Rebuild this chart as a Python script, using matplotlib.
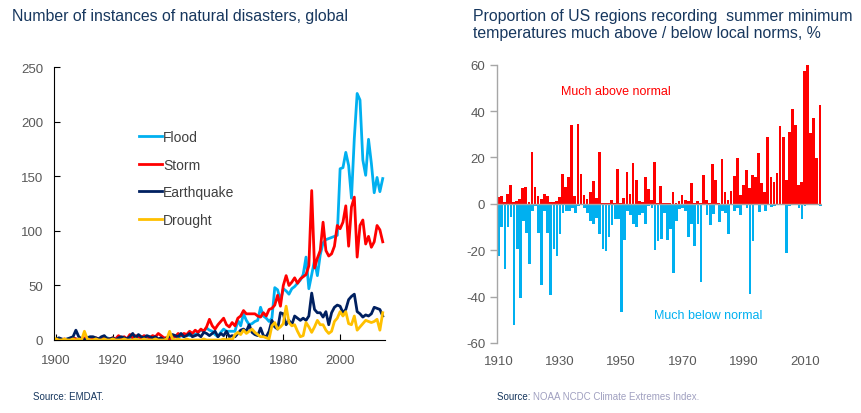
import matplotlib
matplotlib.use("Agg")
import matplotlib.pyplot as plt
import numpy as np

plt.rcParams["font.family"] = ["Liberation Sans", "DejaVu Sans"]
plt.rcParams["axes.unicode_minus"] = False

# Left panel: natural disasters per year, 1900-2015.
years = np.arange(1900, 2016)

flood = [
    0, 1, 0, 0, 1, 0, 2, 1, 0, 1,
    0, 1, 0, 2, 1, 0, 1, 0, 2, 1,
    0, 1, 1, 0, 2, 1, 0, 2, 1, 0,
    1, 2, 0, 1, 2, 1, 0, 2, 1, 1,
    0, 2, 3, 2, 4, 3, 5, 4, 6, 5,
    7, 9, 8, 11, 9, 8, 5, 3, 7, 10,
    8, 8, 8, 8, 18, 13, 24, 18, 14, 15,
    17, 18, 30, 22, 20, 17, 20, 48, 46, 36,
    47, 45, 42, 47, 49, 52, 55, 60, 76, 47,
    60, 73, 59, 78, 89, 92, 93, 94, 95, 96,
    157, 158, 172, 160, 130, 185, 226, 220, 165, 151,
    184, 162, 135, 149, 136, 148,
]
storm = [
    0, 1, 0, 1, 0, 1, 2, 1, 0, 1,
    2, 1, 0, 1, 2, 1, 0, 2, 1, 1,
    2, 1, 4, 2, 3, 1, 5, 2, 4, 3,
    2, 4, 3, 2, 4, 3, 6, 4, 2, 2,
    1, 4, 3, 6, 4, 6, 5, 8, 6, 9,
    7, 10, 8, 12, 19, 13, 10, 14, 17, 20,
    14, 12, 16, 13, 20, 22, 27, 24, 24, 24,
    24, 22, 21, 25, 22, 28, 29, 32, 41, 31,
    50, 59, 50, 53, 57, 52, 56, 58, 60, 68,
    137, 66, 75, 82, 108, 82, 77, 79, 86, 105,
    102, 108, 123, 86, 122, 131, 76, 105, 110, 88,
    95, 85, 90, 105, 101, 90,
]
earthquake = [
    0, 2, 1, 0, 1, 2, 3, 9, 3, 1,
    0, 2, 3, 3, 2, 1, 3, 4, 1, 1,
    2, 0, 2, 3, 2, 1, 3, 6, 2, 5,
    3, 2, 4, 3, 2, 3, 1, 2, 0, 2,
    3, 5, 4, 3, 6, 3, 4, 6, 3, 4,
    5, 3, 7, 6, 4, 6, 8, 3, 6, 4,
    8, 3, 4, 3, 6, 9, 10, 8, 14, 7,
    5, 4, 11, 4, 3, 8, 18, 12, 10, 25,
    24, 14, 18, 14, 22, 20, 18, 20, 18, 22,
    43, 28, 25, 25, 21, 26, 14, 25, 30, 32,
    31, 25, 28, 37, 40, 42, 26, 24, 21, 23,
    22, 24, 30, 29, 28, 22,
]
drought = [
    1, 0, 0, 1, 0, 0, 1, 0, 1, 0,
    8, 1, 0, 0, 1, 0, 0, 1, 0, 0,
    1, 0, 0, 0, 1, 0, 0, 0, 1, 0,
    0, 1, 0, 0, 0, 1, 0, 0, 0, 1,
    8, 1, 0, 1, 0, 0, 1, 0, 0, 0,
    0, 0, 1, 0, 0, 0, 0, 0, 0, 1,
    0, 1, 0, 5, 7, 5, 9, 6, 8, 10,
    7, 5, 3, 3, 2, 1, 13, 16, 10, 12,
    15, 31, 16, 13, 14, 8, 3, 4, 16, 12,
    7, 12, 18, 14, 14, 9, 6, 8, 17, 20,
    26, 22, 26, 15, 14, 22, 9, 12, 15, 18,
    17, 16, 17, 19, 9, 25,
]

series_names = ["Flood", "Storm", "Earthquake", "Drought"]
series_colors = ["#00B0F0", "#FF0000", "#002060", "#FFC000"]

# Right panel: share of US regions, much above / below normal, 1910-2015.
cei_years = np.arange(1910, 2016)

much_above = [
    3, 3.5, 1, 4.3, 8.2, 1, 1.4, 2.2, 7, 7.3,
    1, 22.4, 7.3, 3.5, 2.2, 4.3, 3.5, 1, 1, 1.4,
    3.1, 13, 7.3, 11.6, 34.2, 3.5, 34.5, 13, 3.9, 2.2,
    5.3, 9.9, 2.6, 22.4, 0.4, 0.4, 0.4, 1.7, 0.4, 15,
    0.4, 2.6, 13.8, 4.3, 17.7, 10.3, 1.4, 1, 11.6, 6.5,
    1.7, 18, 0.4, 7.8, 0.4, 0.4, 0.4, 5.2, 0.4, 1.3,
    3.9, 1.7, 1.3, 9, 0.4, 1.4, 0.4, 12.5, 1.7, 0.4,
    17.2, 10.3, 0.5, 19.4, 5.2, 1.7, 5.7, 12.1, 19.8, 3.9,
    8.2, 14.7, 6.9, 12.5, 11.6, 22, 9, 5.2, 28.9, 11.6,
    9.5, 13.4, 33.6, 28.9, 10.3, 31, 41, 34, 8.2, 9.5,
    57.3, 59.9, 30.6, 37, 19.8, 42.7,
]
much_below = [
    -22.3, -10, -27.9, -10, -5.5, -52.4, -19.3, -40.7, -7.2, -12.4,
    -26.1, -2.9, -1.1, -12.4, -34.8, -2.9, -12.4, -39.5, -19.3, -22.7,
    -13.2, -4, -3.2, -3.2, -1.9, -4, -1, -0.5, -2, -4,
    -7.2, -8.9, -6.2, -12.9, -19.3, -20.5, -14.1, -9.3, -6.5, -6.5,
    -46.7, -15.4, -3.2, -5, -8.9, -10, -4.6, -4, -8.9, -1.1,
    -1.9, -19.8, -16.2, -15, -3.9, -15.4, -11, -29.7, -7.2, -2.4,
    -2, -3, -14.4, -8.6, -18, -8.9, -33.6, -0.7, -5, -9.3,
    -4.3, -0.7, -8, -3.2, -4, -12.9, -0.5, -3.2, -2, -4.6,
    -0.7, -1.9, -38.8, -16.2, -0.7, -3.7, -0.5, -2.9, -0.5, -1.2,
    -1, -0.5, -0.3, -0.3, -21.3, -1.1, -0.3, -0.3, -2, -6.6,
    -1.1, -0.5, -0.3, -0.5, -0.6, -1.1,
]

TITLE_COLOR = "#17375E"
TICK_COLOR = "#595959"


def draw_disasters(ax):
    for values, name, color in zip([flood, storm, earthquake, drought],
                                   series_names, series_colors):
        ax.plot(years, values, color=color, lw=2.0, label=name)

    ax.set_xlim(1899.4, 2015.8)
    ax.set_ylim(0, 250)
    ax.set_xticks(np.arange(1900, 2001, 20))
    ax.set_yticks(np.arange(0, 251, 50))
    for side in ["top", "right"]:
        ax.spines[side].set_visible(False)
    for side in ["left", "bottom"]:
        ax.spines[side].set_color("black")
        ax.spines[side].set_linewidth(0.8)
    ax.tick_params(direction="in", length=4, width=0.8, color="black",
                   labelsize=9.5, labelcolor=TICK_COLOR)
    ax.tick_params(axis="x", pad=10)
    ax.tick_params(axis="y", pad=8)

    leg = ax.legend(loc="upper left", bbox_to_anchor=(0.255, 0.77),
                    frameon=False, fontsize=10, handlelength=1.7,
                    handletextpad=0.08, labelspacing=0.98, borderpad=0,
                    borderaxespad=0)
    for text in leg.get_texts():
        text.set_color("#404040")


def draw_cei(ax):
    ax.bar(cei_years - 0.08, much_above, width=0.9, color="#FF0000",
           linewidth=0)
    ax.bar(cei_years + 0.08, much_below, width=0.9, color="#00B0F0",
           linewidth=0)
    ax.axhline(0, color="#A6A6A6", lw=1.0)

    ax.set_xlim(1909.5, 2015.6)
    ax.set_ylim(-60, 60)
    ax.set_xticks(np.arange(1910, 2011, 20))
    ax.set_yticks(np.arange(-60, 61, 20))
    for side in ["top", "right", "bottom"]:
        ax.spines[side].set_visible(False)
    ax.spines["left"].set_color("#A6A6A6")
    ax.spines["left"].set_linewidth(1.0)
    ax.tick_params(axis="y", direction="out", length=5, width=1.0,
                   color="#A6A6A6", labelsize=9.5, labelcolor=TICK_COLOR)
    ax.tick_params(axis="x", length=0, labelsize=9.5, labelcolor=TICK_COLOR,
                   pad=9)

    ax.text(1930.3, 48.8, "Much above normal", color="#FF0000",
            fontsize=9, va="center", ha="left")
    ax.text(1960.8, -48.1, "Much below normal", color="#00B0F0",
            fontsize=9, va="center", ha="left")


def main():
    fig = plt.figure(figsize=(8.61, 4.14), dpi=100)

    ax1 = fig.add_axes([54.3 / 861, 1 - 341 / 414, (385 - 54.3) / 861,
                        (341 - 68.3) / 414])
    ax2 = fig.add_axes([497 / 861, 1 - 344 / 414, (822 - 497) / 861,
                        (344 - 65.7) / 414])

    draw_disasters(ax1)
    draw_cei(ax2)

    # Titles.
    fig.text(12 / 861, 1 - 16 / 414,
             "Number of instances of natural disasters, global",
             fontsize=11.4, color=TITLE_COLOR, va="center", ha="left")
    fig.text(473 / 861, 1 - 25 / 414,
             "Proportion of US regions recording  summer minimum\n"
             "temperatures much above / below local norms, %",
             fontsize=11.4, color=TITLE_COLOR, va="center", ha="left",
             linespacing=1.2)

    # Sources.
    fig.text(33 / 861, 1 - 397 / 414, "Source: EMDAT.", fontsize=7,
             color=TITLE_COLOR, va="center", ha="left")
    src = fig.text(497 / 861, 1 - 397 / 414, "Source: ", fontsize=7,
                   color=TITLE_COLOR, va="center", ha="left")
    fig.canvas.draw()
    bb = src.get_window_extent()
    fig.text(bb.x1 / 861, 1 - 397 / 414,
             "NOAA NCDC Climate Extremes Index.", fontsize=7,
             color="#A0A0C0", va="center", ha="left")

    fig.savefig("out.png", dpi=100)


if __name__ == "__main__":
    main()
